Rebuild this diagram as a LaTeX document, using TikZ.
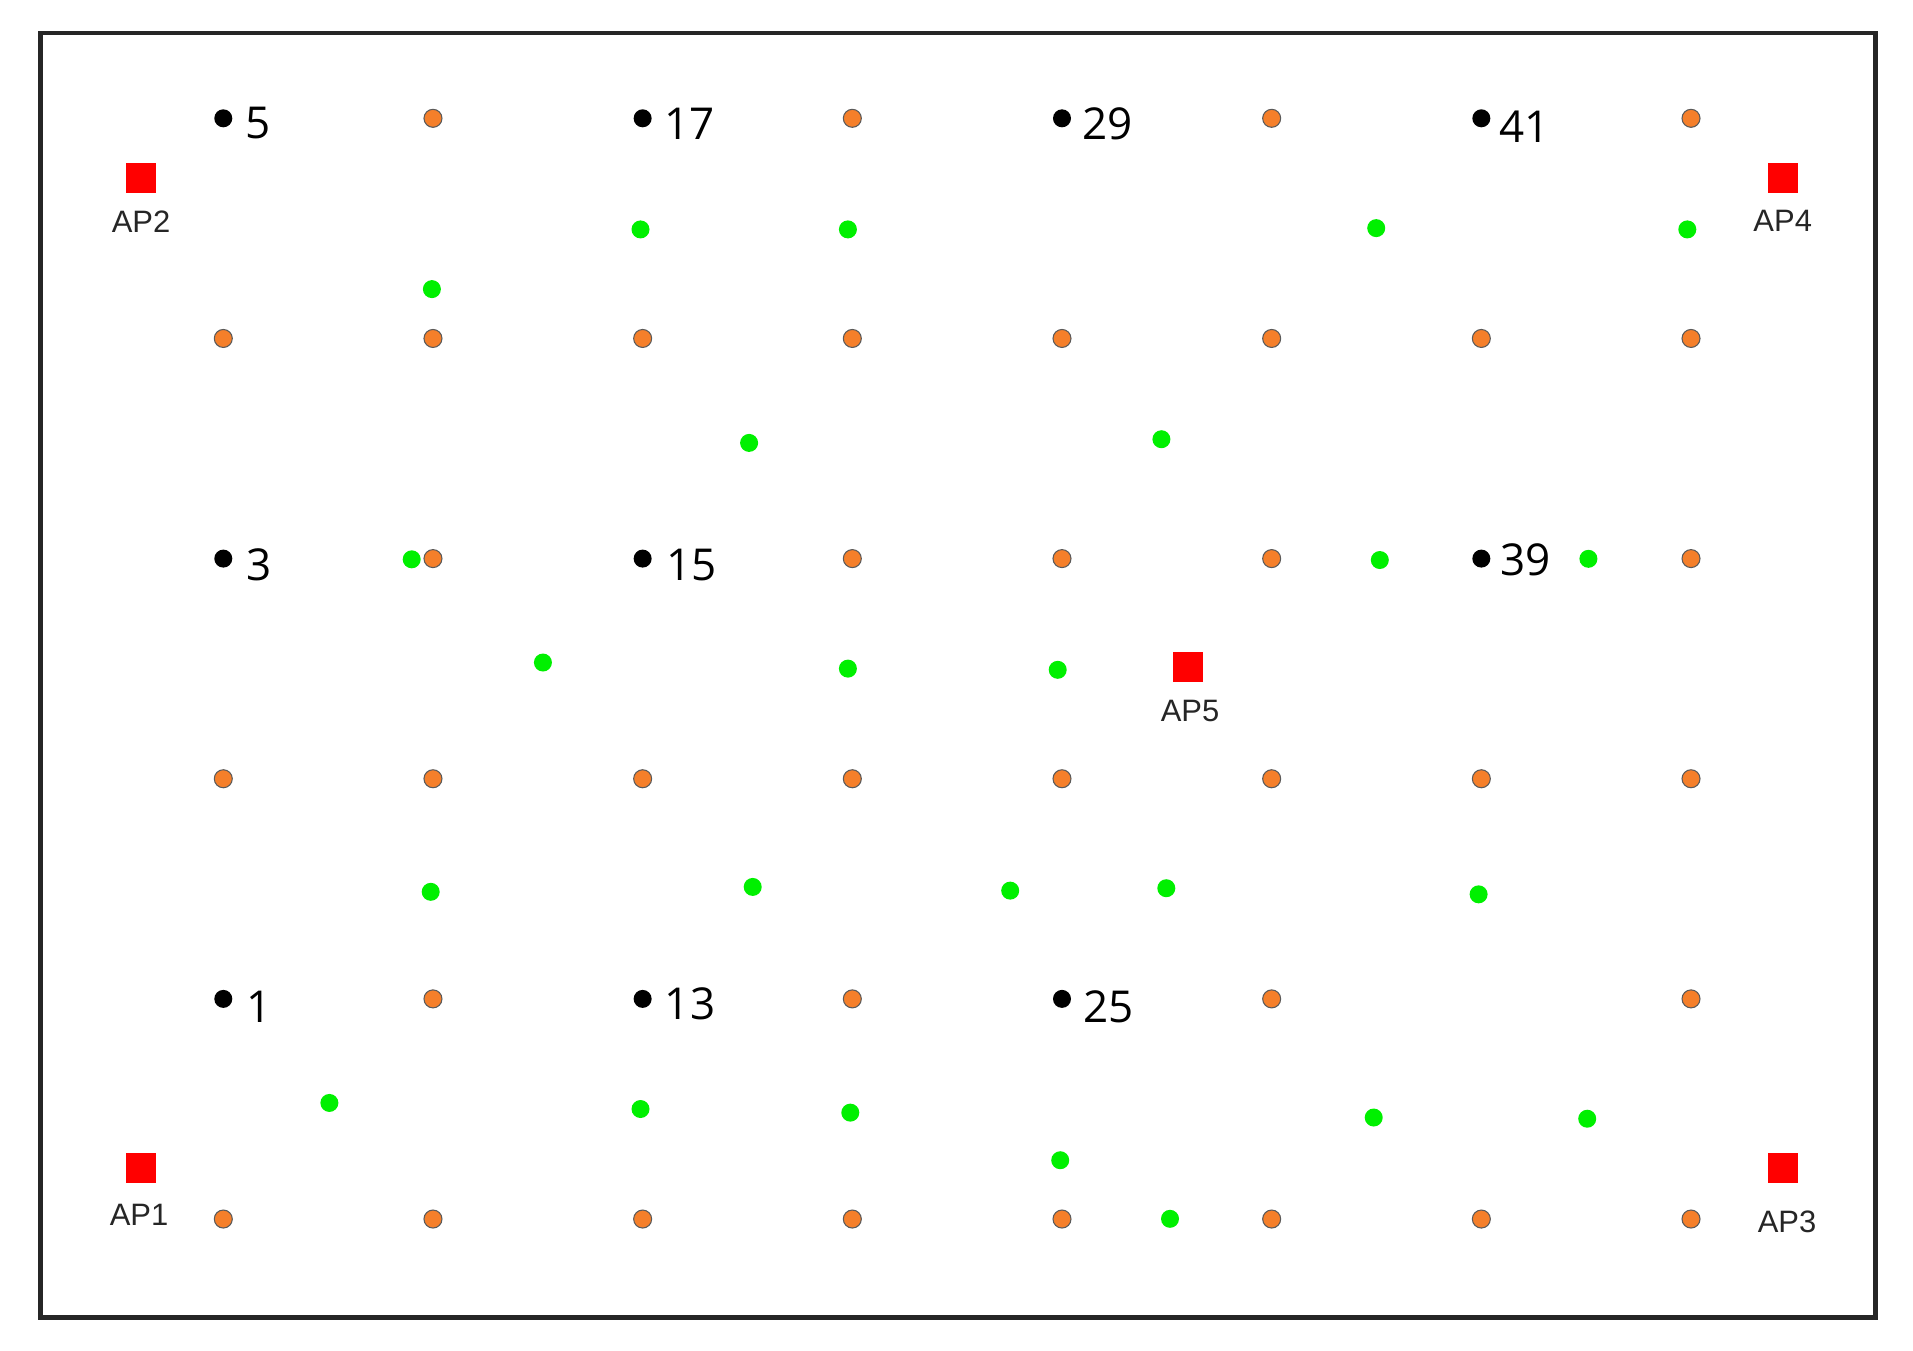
\documentclass[tikz,border=0pt]{standalone}
\usepackage{fontspec}
\setmainfont{Liberation Sans}
\newfontfamily\numfont{Open Sans}
\definecolor{dotorange}{RGB}{245,127,42}
\definecolor{dotgreen}{RGB}{0,240,0}
\definecolor{apred}{RGB}{255,0,0}
\definecolor{outlinegray}{RGB}{90,90,90}
\begin{document}
\begin{tikzpicture}[x=0.01cm,y=-0.01cm,
  odot/.style={circle,fill=dotorange,draw=outlinegray,line width=0.3pt,inner sep=0pt,minimum size=0.18cm},
  gdot/.style={circle,fill=dotgreen,draw=none,inner sep=0pt,minimum size=0.18cm},
  bdot/.style={circle,fill=black,draw=none,inner sep=0pt,minimum size=0.18cm},
  numlbl/.style={inner sep=0pt,font=\numfont\fontsize{12.5pt}{14pt}\selectfont},
  apbox/.style={rectangle,fill=apred,draw=none,inner sep=0pt,minimum size=0.30cm},
  aplbl/.style={inner sep=0pt,font=\fontsize{8.8pt}{10pt}\selectfont,text=black!85}]
\useasboundingbox (0,0) rectangle (1913,1350);
\fill[white] (0,0) rectangle (1913,1350);
\node[draw=black!85,line width=1.2pt,inner sep=0pt,minimum width=18.34cm,minimum height=12.84cm] (frame) at (958,675) {};
% orange grid dots
\foreach \i/\j in {1/0,3/0,5/0,7/0,
                   0/1,1/1,2/1,3/1,4/1,5/1,6/1,7/1,
                   1/2,3/2,4/2,5/2,7/2,
                   0/3,1/3,2/3,3/3,4/3,5/3,6/3,7/3,
                   1/4,3/4,5/4,7/4,
                   0/5,1/5,2/5,3/5,4/5,5/5,6/5,7/5}
  \node[odot] (o\i\j) at ({223.3+209.67*\i},{118.3+220.14*\j}) {};
% black reference dots with numbers
\foreach \i/\j/\n/\lx/\ly in {0/0/5/258.2/123.5, 2/0/17/689.4/123.5, 4/0/29/1107.3/123.5, 6/0/41/1524.6/126.9,
                              0/2/3/259.4/564.9, 2/2/15/691.3/564.9, 6/2/39/1525.8/560,
                              0/4/1/259.4/1006.5, 2/4/13/690.1/1004.1, 4/4/25/1108.5/1006.5}
{
  \node[bdot] (b\n) at ({223.3+209.67*\i},{118.3+220.14*\j}) {};
  \node[numlbl] (l\n) at (\lx,\ly) {\n};
}
% green dots
\foreach \x/\y [count=\k] in {640.5/229.4, 847.9/229.4, 1376.2/228.1, 1687.3/229.4,
                   431.9/289.1, 749.1/442.9, 1161.4/439.2,
                   411.7/559.3, 1379.8/560, 1588.4/558.8,
                   542.9/662.5, 847.9/668.6, 1057.7/669.8,
                   430.7/891.8, 752.7/886.9, 1010.2/890.6, 1166.3/888.2, 1478.6/894.3,
                   329.4/1102.9, 640.5/1109, 850.3/1112.6, 1373.7/1117.5, 1587.2/1118.7,
                   1060.2/1160.2, 1170/1218.8}
  \node[gdot] (g\k) at (\x,\y) {};
% access points
\node[apbox] (ap1) at (140.7,1168.3) {};
\node[aplbl] (ap1l) at (139,1215) {AP1};
\node[apbox] (ap2) at (140.7,178.3) {};
\node[aplbl] (ap2l) at (141,221.7) {AP2};
\node[apbox] (ap3) at (1782.7,1168.3) {};
\node[aplbl] (ap3l) at (1787,1221.7) {AP3};
\node[apbox] (ap4) at (1782.7,177.7) {};
\node[aplbl] (ap4l) at (1782.7,220.7) {AP4};
\node[apbox] (ap5) at (1188.3,667.3) {};
\node[aplbl] (ap5l) at (1190,710.7) {AP5};
\end{tikzpicture}
\end{document}
